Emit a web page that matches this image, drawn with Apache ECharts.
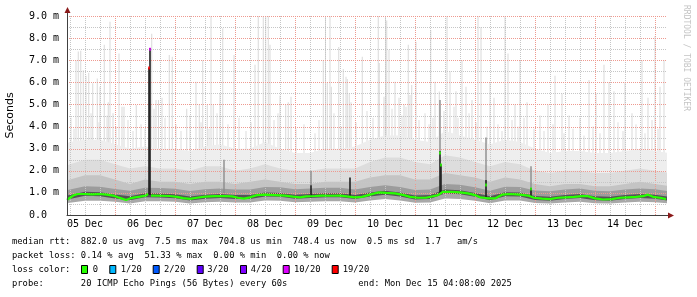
<!DOCTYPE html>
<html><head><meta charset="utf-8">
<script src="https://cdn.jsdelivr.net/npm/echarts@6/dist/echarts.min.js"></script>
<style>html,body{margin:0;padding:0;background:#fff}#c{width:697px;height:297px}</style>
</head><body><div id="c"></div>
<script>
// ---------- DATA (hours since 05 Dec 00:00) ----------
const dayLabels = ['05 Dec','06 Dec','07 Dec','08 Dec','09 Dec','10 Dec','11 Dec','12 Dec','13 Dec','14 Dec'];
const labelHours = [12,36,60,84,108,132,156,180,204,228];
const gridHours = [6,12,18,24,30,36,42,48,54,60,66,72,78,84,90,96,102,108,114,120,126,132,138,144,150,156,162,168,174,180,186,192,198,204,210,216,222,228,234,240];
const hgridValues = [0.5,1,1.5,2,2.5,3,3.5,4,4.5,5,5.5,6,6.5,7,7.5,8,8.5,9];

const smokeHours = [0,6,12,18,24,30,36,42,48,54,60,66,72,78,84,90,96,102,108,114,120,126,132,138,144,150,156,162,168,174,180,186,192,198,204,210,216,222,228,234,240,246];
const smokeMin = [0.50,0.55,0.65,0.65,0.60,0.52,0.62,0.62,0.60,0.52,0.58,0.60,0.56,0.56,0.66,0.64,0.58,0.60,0.62,0.62,0.56,0.66,0.72,0.66,0.55,0.56,0.75,0.72,0.64,0.53,0.66,0.66,0.54,0.52,0.57,0.60,0.53,0.52,0.57,0.60,0.58,0.52];
const smokeLow = [0.62,0.72,0.87,0.85,0.75,0.67,0.80,0.79,0.76,0.66,0.74,0.77,0.72,0.72,0.84,0.82,0.74,0.77,0.80,0.80,0.72,0.84,0.92,0.84,0.70,0.72,0.97,0.94,0.82,0.67,0.85,0.84,0.68,0.64,0.72,0.77,0.67,0.64,0.72,0.77,0.74,0.64];
const smokeDark = [0.80,0.90,1.05,1.03,0.93,0.85,0.98,0.97,0.94,0.84,0.92,0.95,0.90,0.90,1.02,1.00,0.92,0.95,0.98,0.98,0.90,1.02,1.10,1.02,0.88,0.90,1.15,1.12,1.00,0.85,1.03,1.02,0.86,0.82,0.90,0.95,0.85,0.82,0.90,0.95,0.92,0.82];
const smokeShade = [1.05,1.15,1.30,1.28,1.18,1.10,1.23,1.22,1.19,1.09,1.17,1.20,1.15,1.15,1.27,1.25,1.17,1.20,1.23,1.23,1.15,1.27,1.35,1.27,1.13,1.15,1.40,1.37,1.25,1.10,1.28,1.27,1.11,1.07,1.15,1.20,1.10,1.07,1.15,1.20,1.17,1.07];
const smokeMid = [1.4,1.6,1.8,1.8,1.6,1.4,1.6,1.5,1.5,1.4,1.5,1.5,1.4,1.5,1.6,1.5,1.4,1.4,1.5,1.5,1.5,1.7,1.8,1.8,1.6,1.6,1.9,1.8,1.7,1.5,1.7,1.6,1.4,1.3,1.4,1.4,1.3,1.3,1.4,1.5,1.4,1.3];
const smokeLightMid = [2.0,2.3,2.5,2.5,2.3,2.1,2.2,2.1,2.1,2.0,2.2,2.2,2.0,2.1,2.3,2.1,2.0,2.0,2.1,2.1,2.1,2.4,2.6,2.6,2.4,2.3,2.7,2.6,2.4,2.2,2.4,2.3,2.0,1.9,2.0,2.0,1.9,1.9,2.0,2.1,2.0,1.9];
const smokeTop = [3.0,3.3,3.4,3.4,3.2,3.0,3.1,3.0,3.0,2.9,3.1,3.2,3.0,3.0,3.3,3.0,2.8,2.8,3.0,3.0,3.1,3.4,3.6,3.6,3.4,3.3,3.8,3.6,3.4,3.2,3.4,3.3,3.0,2.8,2.9,2.9,2.8,2.8,2.9,3.0,2.9,2.8];

const lightSpikeHours = [8.4,9.3,10.3,11.3,12.4,13.5,15.1,16.9,18.0,19.7,21.3,22.0,23.2,25.6,26.8,27.6,32.5,38.7,40.4,41.4,42.8,45.7,46.9,52.7,56.4,57.7,59.1,60.9,62.4,63.3,66.0,67.1,71.6,80.0,81.3,83.3,84.3,85.3,86.0,90.0,92.3,93.3,94.4,107.3,108.2,108.9,110.0,110.5,113.5,115.3,116.4,116.9,117.7,118.4,122.9,129.3,129.7,131.6,132.2,132.7,133.6,136.0,137.6,139.6,141.3,142.0,142.7,144.4,150.3,152.0,153.7,156.8,158.0,160.4,162.8,164.4,166.8,169.2,170.4,174.0,175.6,180.0,181.2,184.0,186.0,188.8,194.0,197.2,200.0,202.8,205.6,210.0,213.6,216.4,219.6,221.6,223.6,228.0,230.8,234.8,237.2,240.0,242.0,243.6];
const lightSpikeTops = [7.0,7.4,7.43,6.55,6.3,6.43,5.96,6.17,5.8,7.7,5.1,8.74,4.6,7.3,4.9,4.9,4.97,8.2,5.2,5.2,5.3,7.24,7.16,4.8,6.03,5.0,7.0,5.0,9.0,5.0,5.5,8.45,7.24,6.8,9.1,9.1,9.1,9.1,7.7,5.4,5.0,5.1,5.35,7.0,9.1,6.0,9.1,5.8,7.6,6.6,6.25,6.15,5.5,5.1,7.16,9.1,6.87,5.35,9.1,8.8,7.46,6.03,5.3,5.0,7.7,5.43,5.88,7.84,8.37,6.03,5.58,9.0,6.5,5.6,7.0,5.8,5.2,9.0,8.5,6.0,5.3,9.0,7.3,5.0,7.0,5.1,4.5,5.0,6.3,5.5,4.5,4.4,6.1,5.5,6.8,6.0,5.6,6.0,4.6,7.0,5.3,8.1,5.8,7.0];

const lowSpikeHours = [6.4,7.6,14.4,17.6,20.8,24.4,29.2,31.2,34.4,36.0,39.6,44.0,48.4,50.4,54.0,58.4,61.6,64.8,69.2,73.6,76.4,78.4,87.6,89.2,96.4,99.6,104.0,105.6,111.6,114.4,120.4,124.8,127.2,134.8,138.8,140.4,145.6,148.0,149.6,151.2,155.6,159.6,161.2,165.6,168.4,172.8,177.2,178.8,182.8,185.2,187.6,191.6,195.6,199.2,203.6,207.2,211.6,215.2,218.0,225.2,227.2,232.4,236.0,238.8,241.2];
const lowSpikeTops = [4.4,3.9,4.6,4.2,4.5,4.0,4.3,3.8,4.1,3.9,4.8,4.4,4.1,3.8,4.5,4.2,3.9,4.6,4.1,4.4,3.8,4.2,4.3,4.6,3.9,4.1,3.7,4.3,4.6,4.0,4.2,4.7,4.4,4.8,4.5,4.9,4.3,4.6,4.1,4.4,4.7,4.9,4.4,4.6,4.2,4.0,4.1,3.8,4.3,4.0,4.4,3.9,3.8,4.1,3.7,3.9,3.6,4.0,3.7,4.2,3.8,4.1,3.7,4.3,3.9];

const graySpikeHours = [67.6,102.4,154.0,172.4,190.4];
const graySpikeLows  = [1.0,1.35,2.9,1.58,1.22];
const graySpikeTops  = [2.5,2.0,5.2,3.5,2.2];

const darkSpikeHours = [37.6,38.0,102.4,118.0,154.0,154.4,172.4,190.4];
const darkSpikeLows  = [0.9,0.9,0.8,0.8,0.95,0.95,0.75,0.8];
const darkSpikeTops  = [6.65,7.55,1.35,1.7,2.9,2.3,1.58,1.22];

const medianHours = [4.8,6.0,7.6,9.2,12.0,14.8,18.0,20.8,23.2,25.2,26.8,28.4,30.0,32.0,34.0,36.4,37.2,37.8,38.4,42.0,46.0,48.8,51.2,54.0,56.8,60.0,64.0,68.0,70.8,73.2,75.6,78.0,80.8,84.0,88.0,92.0,95.2,98.0,100.4,104.0,106.8,110.0,114.0,116.8,120.0,122.8,126.0,129.2,132.4,136.0,139.6,142.0,145.2,148.4,151.2,153.2,155.2,158.8,162.0,165.2,168.0,170.0,171.6,173.2,176.0,178.8,182.0,186.0,189.2,191.6,194.8,198.0,201.2,204.4,207.6,210.8,213.2,216.0,219.2,222.8,226.0,229.2,232.4,235.2,237.2,239.2,242.0,244.4];
const medianValues = [0.68,0.78,0.90,0.95,0.95,0.93,0.95,0.92,0.88,0.80,0.74,0.68,0.75,0.80,0.83,0.88,0.95,null,0.88,0.87,0.86,0.82,0.76,0.73,0.78,0.83,0.85,0.86,0.84,0.78,0.74,0.80,0.90,0.92,0.90,0.88,0.83,0.80,0.84,0.86,0.88,0.87,0.88,0.84,0.80,0.82,0.92,1.02,1.00,0.98,0.90,0.82,0.78,0.78,0.85,0.90,1.05,1.05,1.02,0.98,0.90,0.80,0.78,0.75,0.75,0.92,0.95,0.92,0.88,0.78,0.74,0.72,0.78,0.80,0.82,0.85,0.85,0.75,0.70,0.72,0.78,0.80,0.82,0.85,0.92,0.82,0.78,0.72];

const lossHours  = [37.6,38.0,154.0,154.4,172.4,190.4];
const lossValues = [6.65,7.5,2.8,2.26,1.36,1.18];
const lossLevel  = [6,5,0,0,0,0];

const lossLabels = ['0','1/20','2/20','3/20','4/20','10/20','19/20'];
const lossColors = ['#26ff00','#00b8ff','#0059ff','#5e00ff','#7e00ff','#dd00ff','#ff0000'];

const legendLines = [
  'median rtt:  882.0 us avg  7.5 ms max  704.8 us min  748.4 us now  0.5 ms sd  1.7   am/s',
  'packet loss: 0.14 % avg  51.33 % max  0.00 % min  0.00 % now',
  'loss color:',
  'probe:       20 ICMP Echo Pings (56 Bytes) every 60s'
];
const endText = 'end: Mon Dec 15 04:08:00 2025';

// ---------- LAYOUT ----------
const GL = 67, GT = 16, GW = 600, GH = 199;
const MONO = '"DejaVu Sans Mono", monospace';
const RED = '#ee9a90';
const GRAY = '#c6c6c6';

const zip = (a, b) => a.map((v, i) => [v, b[i]]);
const zip3 = (a, b, c) => a.map((v, i) => [v, b[i], c[i]]);

function spike(color, w) {
  return function (params, api) {
    const p1 = api.coord([api.value(0), api.value(1)]);
    const p2 = api.coord([api.value(0), api.value(2)]);
    return { type: 'rect', shape: { x: p1[0] - w / 2, y: p2[1], width: w, height: p1[1] - p2[1] }, style: { fill: color } };
  };
}
function area(vals, color) {
  return { type: 'line', data: zip(smokeHours, vals), symbol: 'none', lineStyle: { width: 0 },
    areaStyle: { color: color, opacity: 1 }, z: 2, silent: true };
}
function vgrid(params, api) {
  const h = api.value(0);
  const p1 = api.coord([h, 0]);
  const p2 = api.coord([h, 9]);
  const x = Math.round(p1[0]) + 0.5;
  return { type: 'line', shape: { x1: x, y1: Math.round(p1[1]), x2: x, y2: Math.round(p2[1]) },
    style: { stroke: (h % 24 === 0) ? RED : GRAY, lineWidth: 1, lineDash: [1, 1] } };
}
function hgrid(params, api) {
  const v = api.value(0);
  const p1 = api.coord([4.8, v]);
  const p2 = api.coord([244.8, v]);
  const y = Math.round(p1[1]) + 0.5;
  return { type: 'line', shape: { x1: Math.round(p1[0]), y1: y, x2: Math.round(p2[0]), y2: y },
    style: { stroke: (v % 1 === 0) ? RED : GRAY, lineWidth: 1, lineDash: [1, 1] } };
}

const legendBoxX = [81, 109.3, 152.7, 196.7, 240, 282.7, 331.7];
const legendTextX = [92.7, 120.7, 164, 207.3, 250.7, 294, 342.7];
const rowY = [241.7, 255.7, 269.5, 283.3];

const graphic = [];
legendLines.forEach((t, i) => graphic.push({ type: 'text', x: 12, y: rowY[i], style: { text: t, font: '8.8px ' + MONO, fill: '#000', verticalAlign: 'middle' } }));
graphic.push({ type: 'text', x: 358.3, y: rowY[3], style: { text: endText, font: '8.8px ' + MONO, fill: '#000', verticalAlign: 'middle' } });
lossLabels.forEach((t, i) => {
  graphic.push({ type: 'rect', shape: { x: legendBoxX[i] + 0.5, y: 265.5, width: 6, height: 8 }, style: { fill: lossColors[i], stroke: '#000', lineWidth: 1 } });
  graphic.push({ type: 'text', x: legendTextX[i], y: rowY[2], style: { text: t, font: '8.8px ' + MONO, fill: '#000', verticalAlign: 'middle' } });
});
graphic.push({ type: 'text', x: 10, y: GT + GH / 2, rotation: Math.PI / 2, style: { text: 'Seconds', font: '11px "DejaVu Sans"', fill: '#000', align: 'center', verticalAlign: 'middle' } });
graphic.push({ type: 'text', x: 686, y: 5, rotation: -Math.PI / 2, style: { text: 'RRDTOOL / TOBI OETIKER', font: '8px ' + MONO, fill: '#c4c4c4', align: 'left', verticalAlign: 'middle' } });
graphic.push({ type: 'line', shape: { x1: GL + 0.5, y1: GT, x2: GL + 0.5, y2: GT - 4 }, style: { stroke: '#404040', lineWidth: 1 } });
graphic.push({ type: 'polygon', shape: { points: [[GL - 2.5, GT - 3], [GL + 3.5, GT - 3], [GL + 0.5, GT - 9]] }, style: { fill: '#8b1a1a' } });
graphic.push({ type: 'line', shape: { x1: GL + GW, y1: GT + GH + 0.5, x2: GL + GW + 2, y2: GT + GH + 0.5 }, style: { stroke: '#404040', lineWidth: 1 } });
graphic.push({ type: 'polygon', shape: { points: [[GL + GW + 1, GT + GH - 2.5], [GL + GW + 1, GT + GH + 3.5], [GL + GW + 7, GT + GH + 0.5]] }, style: { fill: '#8b1a1a' } });

const option = {
  animation: false,
  backgroundColor: '#fff',
  grid: { left: GL, top: GT, width: GW, height: GH, containLabel: false },
  xAxis: {
    type: 'value', min: 4.8, max: 244.8, interval: 1.2, z: 5,
    axisLine: { show: true, lineStyle: { color: '#404040', width: 1 } },
    axisTick: { show: false },
    axisLabel: {
      margin: 4, fontFamily: MONO, fontSize: 10, color: '#000', showMinLabel: false, showMaxLabel: false,
      formatter: function (v) { const i = labelHours.findIndex(h => Math.abs(h - v) < 0.01); return i >= 0 ? dayLabels[i] : ''; }
    },
    splitLine: { show: false }
  },
  yAxis: {
    type: 'value', min: 0, max: 9, interval: 1, z: 5,
    axisLine: { show: true, lineStyle: { color: '#404040', width: 1 } },
    axisTick: { show: false },
    axisLabel: { margin: 8, fontFamily: MONO, fontSize: 10, color: '#000',
      formatter: v => v === 0 ? '0.0  ' : v.toFixed(1) + ' m' },
    splitLine: { show: false }
  },
  graphic: graphic,
  series: [
    { type: 'custom', z: 1, clip: true, silent: true, renderItem: spike('#d9d9d9', 1),
      encode: { x: 0, y: [1, 2] }, data: lightSpikeHours.map((h, i) => [h, 1.0, lightSpikeTops[i]]) },
    { type: 'custom', z: 1, clip: true, silent: true, renderItem: spike('#dedede', 1),
      encode: { x: 0, y: [1, 2] }, data: lowSpikeHours.map((h, i) => [h, 1.0, lowSpikeTops[i]]) },
    area(smokeTop, '#eeeeee'),
    area(smokeLightMid, '#dddddd'),
    area(smokeMid, '#c4c4c4'),
    area(smokeShade, '#9c9c9c'),
    area(smokeDark, '#555555'),
    area(smokeLow, '#a8a8a8'),
    area(smokeMin, '#ffffff'),
    { type: 'custom', z: 2.6, clip: false, silent: true, renderItem: vgrid,
      encode: { x: 0 }, data: gridHours.map(h => [h]) },
    { type: 'custom', z: 2.6, clip: false, silent: true, renderItem: hgrid,
      encode: { y: 0 }, data: hgridValues.map(v => [v]) },
    { type: 'custom', z: 3, clip: true, silent: true, renderItem: spike('#8c8c8c', 1.4),
      encode: { x: 0, y: [1, 2] }, data: zip3(graySpikeHours, graySpikeLows, graySpikeTops) },
    { type: 'custom', z: 3, clip: true, silent: true, renderItem: spike('#1e1e1e', 1.6),
      encode: { x: 0, y: [1, 2] }, data: zip3(darkSpikeHours, darkSpikeLows, darkSpikeTops) },
    { type: 'line', z: 4, data: zip(medianHours, medianValues), symbol: 'none', connectNulls: false,
      lineStyle: { color: '#26ff00', width: 2.2 }, silent: true },
    { type: 'scatter', z: 5, symbol: 'rect', symbolSize: [2, 3], silent: true,
      data: lossHours.map((h, i) => ({ value: [h, lossValues[i]], itemStyle: { color: lossColors[lossLevel[i]] } })) }
  ]
};
const chart = echarts.init(document.getElementById('c'));
chart.setOption(option);
</script>
</body></html>
